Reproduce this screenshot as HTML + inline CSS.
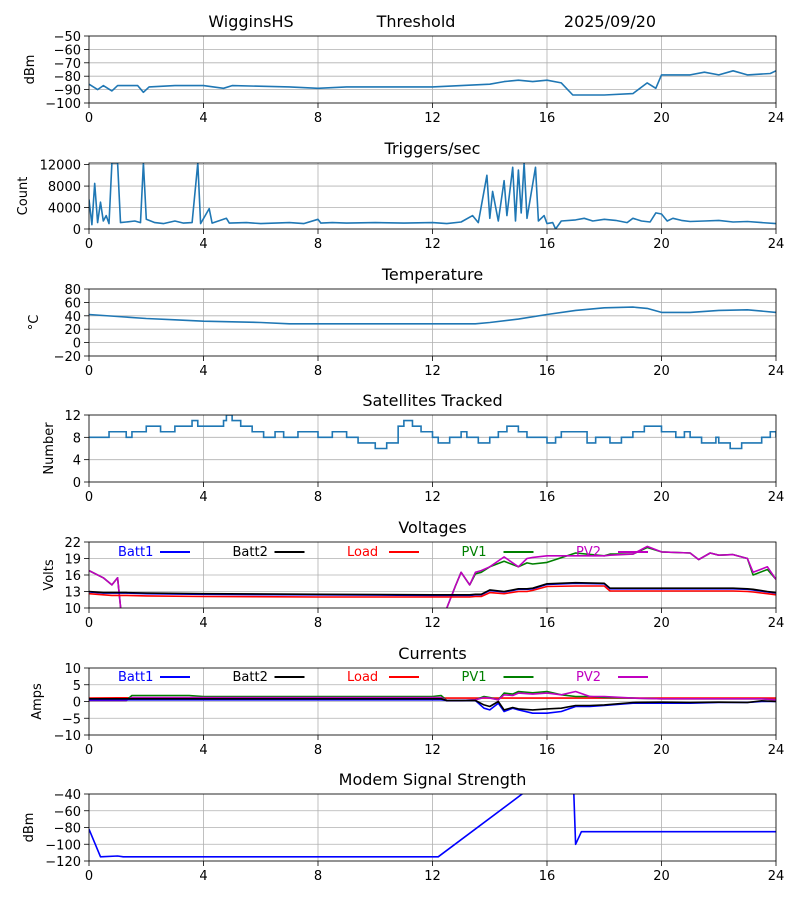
<!DOCTYPE html>
<html><head><meta charset="utf-8">
<style>
html,body{margin:0;padding:0;background:#fff;}
svg{display:block;font-family:"DejaVu Sans","Liberation Sans",sans-serif;}
</style></head>
<body>
<svg id="chart" width="800" height="900" viewBox="0 0 800 900" xmlns="http://www.w3.org/2000/svg">
<text x="251" y="27" font-size="16" text-anchor="middle">WigginsHS</text>
<text x="416" y="27" font-size="16" text-anchor="middle">Threshold</text>
<text x="610" y="27" font-size="16" text-anchor="middle">2025/09/20</text>
</svg>
<script>
// ---- data ----
const xTicks = [0,4,8,12,16,20,24];
const sigT = [0,0.3,0.5,0.8,1,1.7,1.9,2.1,3,4,4.7,5,7,8,9,12,13,14,14.5,15,15.5,16,16.5,16.9,18,19,19.5,19.8,20,21,21.5,22,22.5,23,23.8,24];
const sigV = [-86,-90,-87,-91,-87,-87,-92,-88,-87,-87,-89,-87,-88,-89,-88,-88,-87,-86,-84,-83,-84,-83,-85,-94,-94,-93,-85,-89,-79,-79,-77,-79,-76,-79,-78,-76];
const trigT = [0,0.1,0.2,0.3,0.4,0.5,0.6,0.7,0.8,0.9,1.0,1.1,1.3,1.6,1.8,1.9,2.0,2.3,2.6,3.0,3.3,3.6,3.8,3.9,4.2,4.3,4.8,4.9,5.5,6,6.5,7,7.5,8,8.1,8.5,9,10,11,12,12.5,13,13.4,13.6,13.9,14.0,14.1,14.3,14.5,14.6,14.8,14.9,15.0,15.1,15.2,15.3,15.6,15.7,15.9,16.0,16.2,16.3,16.5,17,17.3,17.6,18,18.4,18.8,19,19.3,19.6,19.8,20,20.2,20.4,20.7,21,21.5,22,22.5,23,23.5,24];
const trigV = [5500,800,8500,1200,5000,1500,2500,1000,12300,12300,12300,1200,1300,1500,1200,12300,1800,1200,1000,1500,1100,1200,12300,1000,3800,1100,2000,1100,1200,1000,1100,1200,1000,1800,1100,1200,1100,1200,1100,1200,1000,1300,2500,1200,10000,2000,7000,1500,9000,2500,11500,1500,11000,3000,12300,2000,11500,1500,2500,1000,1200,0,1500,1700,2000,1500,1800,1600,1200,2000,1500,1300,3000,2800,1500,2000,1600,1400,1500,1600,1300,1400,1200,1000];
const tempT = [0,1,2,3,4,5,6,7,8,10,12,13.5,14,15,16,17,18,19,19.5,20,21,22,23,24];
const tempV = [42,39,36,34,32,31,30,28,28,28,28,28,30,35,42,48,52,53,51,45,45,48,49,45];
const satT = [0,0.7,1.3,1.5,2,2.5,3,3.6,3.8,4.7,4.8,5,5.3,5.7,6.1,6.5,6.8,7.3,8,8.5,9,9.4,10,10.4,10.8,11,11.3,11.6,12,12.2,12.6,13,13.2,13.6,14,14.3,14.6,15,15.3,15.8,16,16.3,16.5,17,17.4,17.7,18,18.2,18.6,19,19.4,20,20.5,20.8,21,21.4,21.9,22,22.4,22.8,23.5,23.8,24];
const satV = [8,9,8,9,10,9,10,11,10,11,12,11,10,9,8,9,8,9,8,9,8,7,6,7,10,11,10,9,8,7,8,9,8,7,8,9,10,9,8,8,7,8,9,9,7,8,8,7,8,9,10,9,8,9,8,7,8,7,6,7,8,9,8];
const voltT = [0,0.5,0.8,1.0,1.3,2,4,8,12,12.3,12.5,12.8,13,13.3,13.5,13.7,14,14.5,15,15.3,15.5,16,17,18,18.2,19,19.5,20,21,21.3,21.7,22,22.5,23,23.2,23.7,24];
const batt2V = [13.0,12.8,12.8,12.8,12.8,12.7,12.6,12.5,12.4,12.4,12.4,12.4,12.4,12.4,12.5,12.5,13.3,13.0,13.5,13.5,13.6,14.4,14.6,14.5,13.6,13.6,13.6,13.6,13.6,13.6,13.6,13.6,13.6,13.5,13.4,13.0,12.8];
const batt1V = [12.9,12.7,12.7,12.7,12.7,12.6,12.5,12.4,12.3,12.3,12.3,12.3,12.3,12.3,12.4,12.4,13.2,12.9,13.4,13.4,13.5,14.3,14.5,14.4,13.5,13.5,13.5,13.5,13.5,13.5,13.5,13.5,13.5,13.4,13.3,12.9,12.7];
const loadV = [12.6,12.4,12.3,12.3,12.3,12.2,12.1,12.0,12.0,12.0,12.0,12.0,12.0,12.0,12.1,12.1,12.8,12.6,13.0,13.0,13.2,13.9,14.0,14.0,13.1,13.1,13.1,13.1,13.1,13.1,13.1,13.1,13.1,13.0,12.9,12.6,12.4];
const pv1V = [16.8,15.5,14.2,15.5,0,0,0,0,0,0,10,14,16.5,14.2,16.2,16.5,17.5,18.5,17.5,18.2,18,18.3,20,19.5,19.8,19.8,21,20.2,20,18.8,20,19.6,19.7,19,16,17,15.2];
const pv2V = [16.8,15.5,14.2,15.5,0,0,0,0,0,0,10,14,16.5,14.2,16.5,16.8,17.5,19.3,17.5,19,19.2,19.5,19.5,19.5,19.6,19.8,21.2,20.2,20,18.8,20,19.6,19.7,19,16.5,17.5,15.2];
const curT = [0,1,1.3,1.5,3.5,4,8,12,12.3,12.5,13,13.5,13.8,14,14.3,14.5,14.8,15,15.5,16,16.5,17,17.5,18,19,20,21,22,23,23.5,24];
const cBatt1 = [0.5,0.5,0.5,0.5,0.5,0.5,0.5,0.5,0.5,0.3,0.3,0.3,-2,-2.5,-0.5,-3,-2,-2.5,-3.5,-3.5,-3,-1.5,-1.5,-1.2,-0.5,-0.5,-0.5,-0.3,-0.3,0,0];
const cBatt2 = [0.8,0.8,0.8,0.8,0.8,0.8,0.8,0.8,0.8,0.3,0.3,0.3,-1,-1.5,0,-2.5,-1.8,-2.2,-2.5,-2.2,-2,-1.2,-1.2,-1,-0.3,-0.2,-0.3,-0.2,-0.3,0.2,0];
const cLoad = [1.0,1.1,1.1,1.1,1.1,1.1,1.1,1.0,1.0,1.0,1.0,1.0,1.0,1.0,1.0,1.0,1.0,1.0,1.0,1.0,1.0,1.0,1.0,1.0,1.0,1.0,1.0,1.0,1.0,1.0,1.0];
const cPV1 = [0.3,0.3,0.3,1.8,1.8,1.5,1.5,1.5,1.8,0.3,0.3,0.5,1.5,1.2,0.5,2.5,2.2,3,2.6,3,2,1.5,1.5,1.2,1.0,0.8,0.8,0.8,0.8,0.8,0.5];
const cPV2 = [0.3,0.3,0.3,1.2,1.2,1.2,1.2,1.2,1.2,0.3,0.3,0.5,1.2,1.0,0.5,2,1.8,2.5,2.2,2.5,2,3,1.5,1.5,1.0,0.8,0.8,0.8,0.8,0.8,0.5];
const modT = [0,0.4,1,1.2,12.2,16.5,16.9,17.0,17.2,24];
const modV = [-82,-115,-114,-115,-115,-5,-5,-100,-85,-85];

// ---- layout ----
const NS = "http://www.w3.org/2000/svg";
const svg = document.getElementById('chart');
const L = 89, R = 776;
function X(t){ return L + (t/24)*(R-L); }
function mk(tag, attrs, parent){ const e=document.createElementNS(NS,tag); for(const k in attrs) e.setAttribute(k,attrs[k]); (parent||svg).appendChild(e); return e; }

const panels = [
 {name:'signal',top:36,bot:103,ymin:-100,ymax:-50,ticks:[-100,-90,-80,-70,-60,-50],title:'',ylabel:'dBm',ylx:34},
 {name:'triggers',top:163,bot:229,ymin:0,ymax:12300,ticks:[0,4000,8000,12000],title:'Triggers/sec',ylabel:'Count',ylx:27},
 {name:'temperature',top:289,bot:356,ymin:-20,ymax:80,ticks:[-20,0,20,40,60,80],title:'Temperature',ylabel:'\u00B0C',ylx:38},
 {name:'satellites',top:415,bot:482,ymin:0,ymax:12,ticks:[0,4,8,12],title:'Satellites Tracked',ylabel:'Number',ylx:53},
 {name:'voltages',top:542,bot:608,ymin:10,ymax:22,ticks:[10,13,16,19,22],title:'Voltages',ylabel:'Volts',ylx:53},
 {name:'currents',top:668,bot:735,ymin:-10,ymax:10,ticks:[-10,-5,0,5,10],title:'Currents',ylabel:'Amps',ylx:41},
 {name:'modem',top:794,bot:861,ymin:-120,ymax:-40,ticks:[-120,-100,-80,-60,-40],title:'Modem Signal Strength',ylabel:'dBm',ylx:33}
];

panels.forEach((p,i)=>{
  p.Y = v => p.bot - (v-p.ymin)/(p.ymax-p.ymin)*(p.bot-p.top);
  const g = mk('g',{});
  
  
  const cp = mk('clipPath',{id:'clip'+i},g);
  mk('rect',{x:L,y:p.top,width:R-L,height:p.bot-p.top},cp);
  xTicks.forEach(t=>{
    const gl = mk('line',{x1:X(t),x2:X(t),y1:p.top,y2:p.bot,stroke:'#b0b0b0','stroke-width':0.8},g);
    
    
    mk('line',{x1:X(t),x2:X(t),y1:p.bot,y2:p.bot+5,stroke:'#000','stroke-width':0.8},g);
    const tl = mk('text',{x:X(t),y:p.bot+19,'font-size':13,'text-anchor':'middle'},g);
    tl.textContent = t;
    
    
  });
  p.ticks.forEach(v=>{
    const y = p.Y(v);
    mk('line',{x1:L,x2:R,y1:y,y2:y,stroke:'#b0b0b0','stroke-width':0.8},g);
    mk('line',{x1:L-5,x2:L,y1:y,y2:y,stroke:'#000','stroke-width':0.8},g);
    const tl = mk('text',{x:L-8,y:y+5,'font-size':13,'text-anchor':'end'},g);
    tl.textContent = (v<0?'\u2212'+(-v):v);
    
    
  });
  if(p.title){
    const tt = mk('text',{x:(L+R)/2,y:p.top-9,'font-size':16,'text-anchor':'middle'},g);
    tt.textContent = p.title;
    
    
  }
  const yl = mk('text',{x:p.ylx,y:(p.top+p.bot)/2,'font-size':13,'text-anchor':'middle',transform:`rotate(-90 ${p.ylx} ${(p.top+p.bot)/2})`},g);
  yl.textContent = p.ylabel;
  
  
  p.g = g;
  p.clip = 'url(#clip'+i+')';
});

function line(p, ts, vs, color, name, w){
  let d='';
  ts.forEach((t,k)=>{ d += (k?'L':'M') + X(t).toFixed(1)+','+p.Y(vs[k]).toFixed(1); });
  const e = mk('path',{d:d,fill:'none',stroke:color,'stroke-width':w||1.6,'clip-path':p.clip,'stroke-linejoin':'round'},p.g);
  
  
}
function stepLine(p, ts, vs, color, name){
  let d='';
  ts.forEach((t,k)=>{
    if(k===0) d+='M'+X(t)+','+p.Y(vs[k]);
    else d+='L'+X(t)+','+p.Y(vs[k-1])+'L'+X(t)+','+p.Y(vs[k]);
  });
  const e = mk('path',{d:d,fill:'none',stroke:color,'stroke-width':1.6,'clip-path':p.clip},p.g);
  
  
}
const C='#1f77b4';
line(panels[0], sigT, sigV, C, 'signal-line');
line(panels[1], trigT, trigV, C, 'triggers-line');
line(panels[2], tempT, tempV, C, 'temperature-line');
stepLine(panels[3], satT, satV, C, 'satellites-line');
line(panels[4], voltT, pv1V, 'green', 'pv1-voltage-line');
line(panels[4], voltT, pv2V, '#c000c0', 'pv2-voltage-line');
line(panels[4], voltT, batt1V, 'blue', 'batt1-voltage-line');
line(panels[4], voltT, loadV, 'red', 'load-voltage-line');
line(panels[4], voltT, batt2V, 'black', 'batt2-voltage-line');
line(panels[5], curT, cLoad, 'red', 'load-current-line');
line(panels[5], curT, cPV1, 'green', 'pv1-current-line');
line(panels[5], curT, cPV2, '#c000c0', 'pv2-current-line');
line(panels[5], curT, cBatt1, 'blue', 'batt1-current-line');
line(panels[5], curT, cBatt2, 'black', 'batt2-current-line');
line(panels[6], modT, modV, 'blue', 'modem-line');

const legNames = ['Batt1','Batt2','Load','PV1','PV2'];
const legColors = ['blue','black','red','green','#c000c0'];
[[4,556],[5,681]].forEach(([pi,y])=>{
  legNames.forEach((n,k)=>{
    const x0 = 118 + k*114.5;
    const t = mk('text',{x:x0,y:y,'font-size':13,fill:legColors[k]},panels[pi].g);
    t.textContent = n;
    
    
    mk('line',{x1:x0+42,x2:x0+72,y1:y-4,y2:y-4,stroke:legColors[k],'stroke-width':2},panels[pi].g);
  });
});

panels.forEach(p=>{
  const f = mk('rect',{x:L,y:p.top,width:R-L,height:p.bot-p.top,fill:'none',stroke:'#000','stroke-width':0.8},p.g);
  
  
});
</script>
</body></html>
